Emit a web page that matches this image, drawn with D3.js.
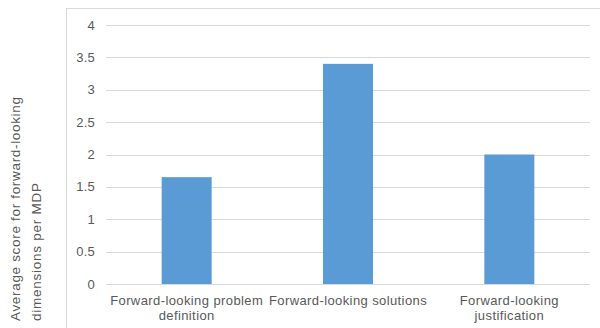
<!DOCTYPE html>
<html>
<head>
<meta charset="utf-8">
<script src="https://cdn.jsdelivr.net/npm/d3@7"></script>
<style>
  body { margin: 0; background: #fff; }
  text { font-family: 'Liberation Sans', Arial, sans-serif; fill: #595959; }
</style>
</head>
<body>
<div id="graf"></div>
<script>
// Datos
categorias = [
  ['Forward-looking problem', 'definition'],
  ['Forward-looking solutions'],
  ['Forward-looking', 'justification']
]
valores = [1.65, 3.4, 2.0]
ticksY = [0, 0.5, 1, 1.5, 2, 2.5, 3, 3.5, 4]
tituloY = ['Average score for forward-looking', 'dimensions per MDP']

ancho_total = 600
alto_total = 328

margins = { top: 25, left: 106, right: 10, bottom: 44 }
ancho = ancho_total - margins.left - margins.right
alto = alto_total - margins.top - margins.bottom

svg = d3.select('#graf').append('svg')
  .attr('width', ancho_total)
  .attr('height', alto_total)

// marco del área del gráfico
svg.append('rect')
  .attr('x', 66.5).attr('y', 8.5)
  .attr('width', 600).attr('height', 400)
  .attr('fill', 'none')
  .attr('stroke', '#d9d9d9')

g = svg.append('g')
  .attr('transform', `translate(${margins.left}, ${margins.top})`)

x = d3.scaleBand().domain(d3.range(categorias.length)).range([0, ancho]).paddingInner(0.69).paddingOuter(0.345)
y = d3.scaleLinear().domain([0, 4]).range([alto, 0])

// líneas de cuadrícula
g.selectAll('.grid')
  .data(ticksY)
  .enter().append('line')
  .attr('x1', 0).attr('x2', ancho)
  .attr('y1', d => Math.round(y(d)) + 0.5)
  .attr('y2', d => Math.round(y(d)) + 0.5)
  .attr('stroke', '#d9d9d9')

// etiquetas del eje Y
g.selectAll('.ty')
  .data(ticksY)
  .enter().append('text')
  .attr('x', -11)
  .attr('y', d => y(d))
  .attr('dy', '0.35em')
  .attr('text-anchor', 'end')
  .attr('font-size', '13px')
  .attr('letter-spacing', '0.2px')
  .text(d => d)

// barras
g.selectAll('.bar')
  .data(valores)
  .enter().append('rect')
  .attr('x', (d, i) => x(i))
  .attr('y', d => y(d))
  .attr('width', x.bandwidth())
  .attr('height', d => y(0) - y(d))
  .attr('fill', '#5b9bd5')

// eje en cero
g.append('line')
  .attr('x1', 0).attr('x2', ancho)
  .attr('y1', Math.round(y(0)) + 0.5).attr('y2', Math.round(y(0)) + 0.5)
  .attr('stroke', '#d9d9d9')

// etiquetas de categorías
categorias.forEach((lineas, i) => {
  lineas.forEach((t, j) => {
    g.append('text')
      .attr('x', x(i) + x.bandwidth() / 2)
      .attr('y', alto + 21 + j * 15)
      .attr('text-anchor', 'middle')
      .attr('font-size', '13px')
      .attr('letter-spacing', '0.4px')
      .text(t)
  })
})

// título del eje Y
tituloLargo = [224, 138]
tituloY.forEach((t, j) => {
  svg.append('text')
    .attr('transform', `translate(${20 + j * 21}, 321) rotate(-90)`)
    .attr('text-anchor', 'start')
    .attr('font-size', '13.5px')
    .attr('textLength', tituloLargo[j])
    .attr('lengthAdjust', 'spacing')
    .text(t)
})
</script>
</body>
</html>
